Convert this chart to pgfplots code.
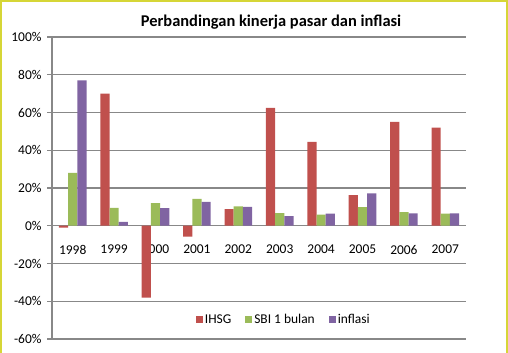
\documentclass[border=0pt]{standalone}
\usepackage{fontspec}
\setmainfont{Carlito}
\usepackage{pgfplots}
\pgfplotsset{compat=1.18}
\definecolor{cIHSG}{HTML}{C0504D}
\definecolor{cSBI}{HTML}{9BBB59}
\definecolor{cInf}{HTML}{8064A2}
\definecolor{gridg}{HTML}{888888}
\definecolor{frameY}{HTML}{D6D636}
\pgfplotstableread{
x IHSG SBI inflasi
0 -1.0 28.0 77.0
1 70.0 9.5 2.0
2 -38.1 12.0 9.4
3 -5.7 14.3 12.6
4 8.8 10.3 10.0
5 62.5 6.7 5.1
6 44.5 5.9 6.4
7 16.2 9.8 17.1
8 55.0 7.2 6.6
9 52.0 6.4 6.6
}\datatable
\begin{document}
\begin{tikzpicture}
\path[use as bounding box] (0,0) rectangle (508bp,353bp);
\draw[frameY, line width=2bp] (1bp,0) -- (1bp,352bp) -- (507bp,352bp) -- (507bp,0);
\begin{axis}[
  at={(52bp,14bp)}, anchor=south west,
  width=414bp, height=302bp, scale only axis,
  ybar=0pt, bar width=9.2bp,
  xmin=-0.5, xmax=9.5, ymin=-60, ymax=100,
  ytick={-60,-40,...,100},
  yticklabel={\pgfmathprintnumber{\tick}\%},
  xtick={0,...,9},
  xticklabels={1998,1999,2000,2001,2002,2003,2004,2005,2006,2007},
  minor xtick={-0.5,0.5,...,9.5},
  axis x line=middle, axis y line=left,
  axis line style={gridg, line width=1.2bp, -},
  x tick style={draw=none},
  minor x tick style={gridg, line width=1.2bp},
  y tick style={gridg, line width=1.2bp},
  tick align=outside,
  xtick align=outside,
  major tick length=5bp, minor tick length=5bp,
  ymajorgrids, grid style={gridg, line width=1.2bp},
  /pgf/number format/assume math mode=true,
  tick label style={font=\fontsize{13.5}{15}\selectfont, text=black},
  xticklabel style={yshift=-11bp, fill=none},
  yticklabel style={xshift=-2bp},
  title={\bfseries Perbandingan kinerja pasar dan inflasi},
  title style={font=\fontsize{16.5}{18}\selectfont, at={(0.529,1)}, anchor=base, yshift=5bp},
  legend style={at={(0.56,0.063)}, anchor=center, draw=none, fill=none,
    legend columns=3, font=\fontsize{13.5}{15}\selectfont,
    /tikz/every even column/.append style={column sep=12bp}},
  legend image code/.code={\fill[#1] (0bp,-3.5bp) rectangle (7bp,3.5bp);},
]
\addplot[fill=cIHSG, draw=none] table[x=x,y=IHSG] {\datatable};
\addplot[fill=cSBI, draw=none] table[x=x,y=SBI] {\datatable};
\addplot[fill=cInf, draw=none] table[x=x,y=inflasi] {\datatable};
\legend{IHSG,SBI 1 bulan,inflasi}
\end{axis}
\end{tikzpicture}
\end{document}
